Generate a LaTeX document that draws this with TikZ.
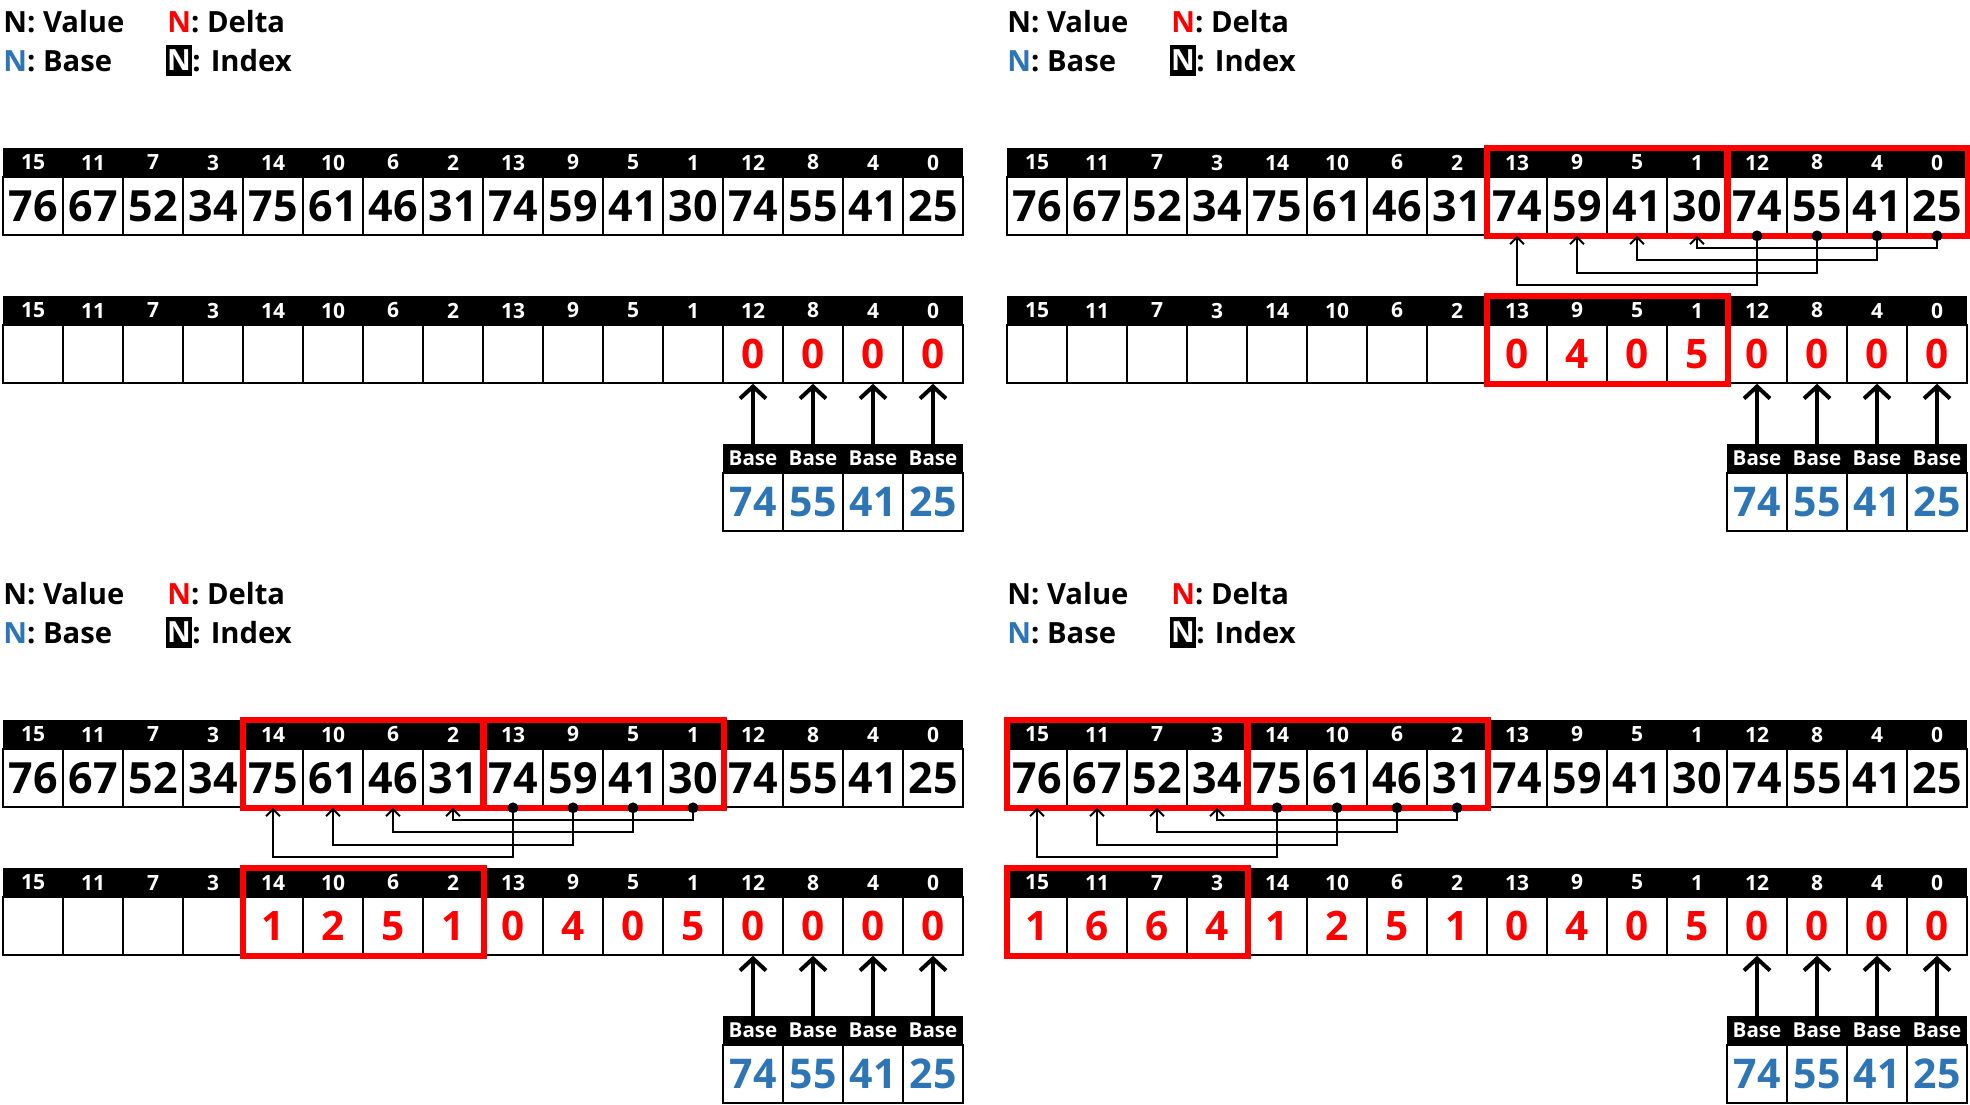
\documentclass[tikz,border=0pt]{standalone}
\usepackage{fontspec}
\setmainfont{Open Sans}
\usetikzlibrary{arrows.meta}

\definecolor{basecol}{RGB}{46,117,182}

\newcommand{\valuefnt}{\bfseries\fontsize{21.5}{22}\selectfont}
\newcommand{\deltafnt}{\bfseries\fontsize{20.3}{21}\selectfont}
\newcommand{\basefnt}{\bfseries\fontsize{20.5}{21}\selectfont}
\newcommand{\indexfnt}{\bfseries\fontsize{10.5}{11}\selectfont}
\newcommand{\headfnt}{\bfseries\fontsize{10.3}{11}\selectfont}
\newcommand{\legendfnt}{\bfseries\fontsize{14.6}{15}\selectfont}

\tikzset{
  band/.style={fill=black},
  idx/.style={text=white, inner sep=0pt, minimum width=30pt, minimum height=14.5pt, font=\indexfnt},
  cell/.style={draw=black, line width=0.8pt, inner sep=0pt, minimum width=30pt, minimum height=29pt, font=\valuefnt},
  delta/.style={text=red, font=\deltafnt},
  base/.style={cell, text=basecol, font=\basefnt},
  redbox/.style={draw=red, line width=3pt},
  link/.style={line width=1pt, -{Straight Barb[length=3.5pt, width=7pt]}},
  load/.style={line width=2pt, -{Straight Barb[length=6pt, width=13pt]}},
  legend/.style={anchor=base west, inner sep=0pt, font=\legendfnt}
}

% one panel: legend, value row, delta row and base row
% #1 = name, #2/#3 = offset in px
\newcommand{\drawpanel}[3]{%
  \begin{scope}[shift={(#2,#3)}]
    % Legend
    \node[legend] (#1-lv) at (3,32) {N: Value};
    \node[legend] (#1-ld) at (167,32) {\textcolor{red}{N}: Delta};
    \node[legend] (#1-lb) at (3,71) {\textcolor{basecol}{N}: Base};
    \node[fill=black, text=white, inner sep=0pt, minimum width=13pt, minimum height=15.5pt, font=\legendfnt] (#1-lN) at (179,60.5) {N};
    \node[legend] (#1-li) at (192,71) {: Index};
    % Values
    \fill[band] (3,148) rectangle (963,177);
    \foreach \n/\v [count=\i from 0] in {15/76,11/67,7/52,3/34,14/75,10/61,6/46,2/31,13/74,9/59,5/41,1/30,12/74,8/55,4/41,0/25} {
      \node[idx] (#1-i\i) at ({33+60*\i},162.5) {\n};
      \node[cell] (#1-v\i) at ({33+60*\i},206) {\v};
    }
    % Deltas
    \fill[band] (3,296) rectangle (963,325);
    \foreach \n [count=\i from 0] in {15,11,7,3,14,10,6,2,13,9,5,1,12,8,4,0} {
      \node[idx] (#1-j\i) at ({33+60*\i},310.5) {\n};
      \node[cell] (#1-d\i) at ({33+60*\i},354) {};
    }
    % Bases
    \fill[band] (723,444) rectangle (963,473);
    \foreach \b [count=\k from 12] in {74,55,41,25} {
      \node[idx, font=\headfnt] (#1-h\k) at ({33+60*\k},458.5) {Base};
      \node[base] (#1-b\k) at ({33+60*\k},502) {\b};
      \node[delta] at (#1-d\k) {0};
      \draw[load] (#1-h\k.north) -- (#1-d\k.south);
    }
  \end{scope}
}

% value cell #2 copied to cell #3 of panel #1, #4 = drop below the row
\newcommand{\linkcells}[4]{%
  \fill (#1-v#2.south) circle [radius=2.7pt];
  \draw[link] (#1-v#2.south) -- ++(0,#4) -| (#1-v#3.south);
}

\begin{document}
\begin{tikzpicture}[x=0.5pt, y=-0.5pt]
  \useasboundingbox (0,0) rectangle (1970,1104);

  % Panels
  \drawpanel{A}{0}{0}
  \drawpanel{B}{1004}{0}
  \drawpanel{C}{0}{572}
  \drawpanel{D}{1004}{572}

  % Panel B
  \foreach \d [count=\i from 8] in {0,4,0,5} \node[delta] at (B-d\i) {\d};
  \draw[redbox] (B-i8.north west) rectangle (B-v11.south east);
  \draw[redbox] (B-i12.north west) rectangle (B-v15.south east);
  \draw[redbox] (B-j8.north west) rectangle (B-d11.south east);
  \linkcells{B}{15}{11}{12}
  \linkcells{B}{14}{10}{24}
  \linkcells{B}{13}{9}{37}
  \linkcells{B}{12}{8}{49}

  % Panel C
  \foreach \d [count=\i from 4] in {1,2,5,1,0,4,0,5} \node[delta] at (C-d\i) {\d};
  \draw[redbox] (C-i4.north west) rectangle (C-v7.south east);
  \draw[redbox] (C-i8.north west) rectangle (C-v11.south east);
  \draw[redbox] (C-j4.north west) rectangle (C-d7.south east);
  \linkcells{C}{11}{7}{12}
  \linkcells{C}{10}{6}{24}
  \linkcells{C}{9}{5}{37}
  \linkcells{C}{8}{4}{49}

  % Panel D
  \foreach \d [count=\i from 0] in {1,6,6,4,1,2,5,1,0,4,0,5} \node[delta] at (D-d\i) {\d};
  \draw[redbox] (D-i0.north west) rectangle (D-v3.south east);
  \draw[redbox] (D-i4.north west) rectangle (D-v7.south east);
  \draw[redbox] (D-j0.north west) rectangle (D-d3.south east);
  \linkcells{D}{7}{3}{12}
  \linkcells{D}{6}{2}{24}
  \linkcells{D}{5}{1}{37}
  \linkcells{D}{4}{0}{49}
\end{tikzpicture}
\end{document}
